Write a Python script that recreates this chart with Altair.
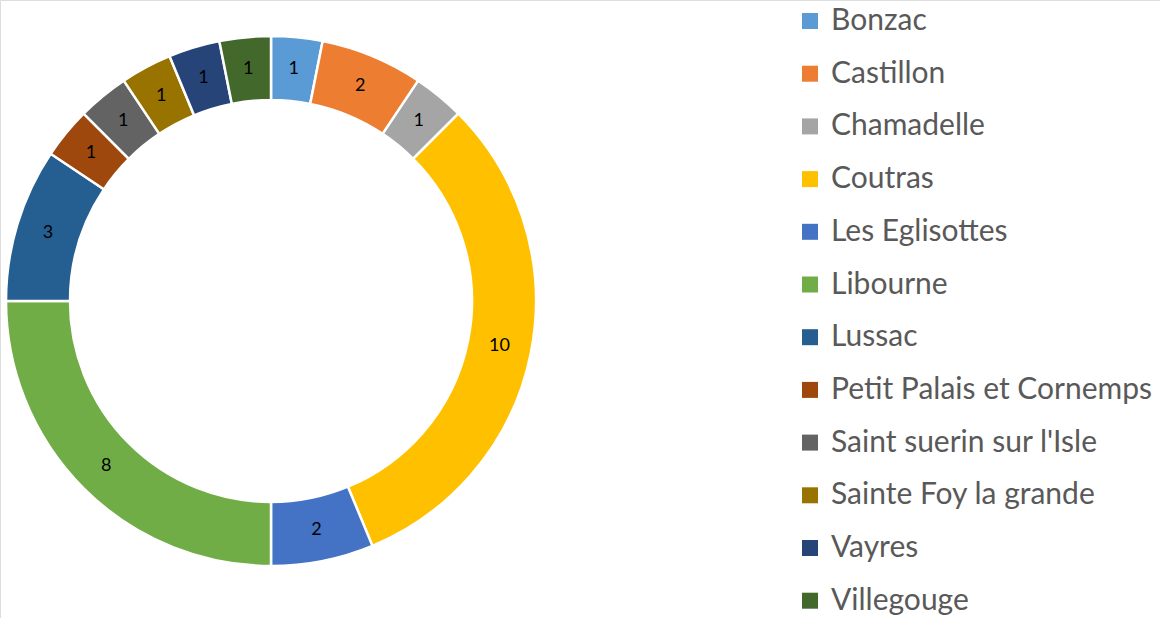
import altair as alt
import pandas as pd

communes = ["Bonzac", "Castillon", "Chamadelle", "Coutras", "Les Eglisottes", "Libourne",
            "Lussac", "Petit Palais et Cornemps", "Saint suerin sur l'Isle",
            "Sainte Foy la grande", "Vayres", "Villegouge"]
counts = [1, 2, 1, 10, 2, 8, 3, 1, 1, 1, 1, 1]
colors = ["#5B9BD5", "#ED7D31", "#A5A5A5", "#FFC000", "#4472C4", "#70AD47",
          "#255E91", "#9E480E", "#636363", "#997300", "#264478", "#43682B"]

df = pd.DataFrame({"commune": communes, "n": counts, "ordre": list(range(len(communes)))})

FONT = "Lato"
CX, CY = 271, 301

base = alt.Chart(df).encode(
    theta=alt.Theta("n:Q", stack=True),
    order=alt.Order("ordre:Q", sort="ascending"),
)

arcs = base.mark_arc(outerRadius=265, innerRadius=201, stroke="white", strokeWidth=2.5).encode(
    x=alt.value(CX), y=alt.value(CY),
    color=alt.Color("commune:N", sort=communes,
                    scale=alt.Scale(domain=communes, range=colors),
                    legend=alt.Legend(title=None, orient="none", legendX=795, legendY=6,
                                      symbolType="square", symbolSize=256,
                                      symbolStrokeWidth=0,
                                      labelFont=FONT, labelFontSize=30, labelColor="#595959",
                                      labelOffset=6, rowPadding=22.7, labelLimit=400)),
)

labels = base.mark_text(font=FONT, fontSize=18, color="#000000", radius=233).encode(
    x=alt.value(CX), y=alt.value(CY),
    text=alt.Text("n:Q"),
)

chart = alt.layer(arcs, labels).properties(
    width=1160, height=618, autosize="none", padding=0,
).configure_view(stroke=None).configure(background="white")

chart.save("out.html", embed_options={"renderer": "svg", "actions": False})
